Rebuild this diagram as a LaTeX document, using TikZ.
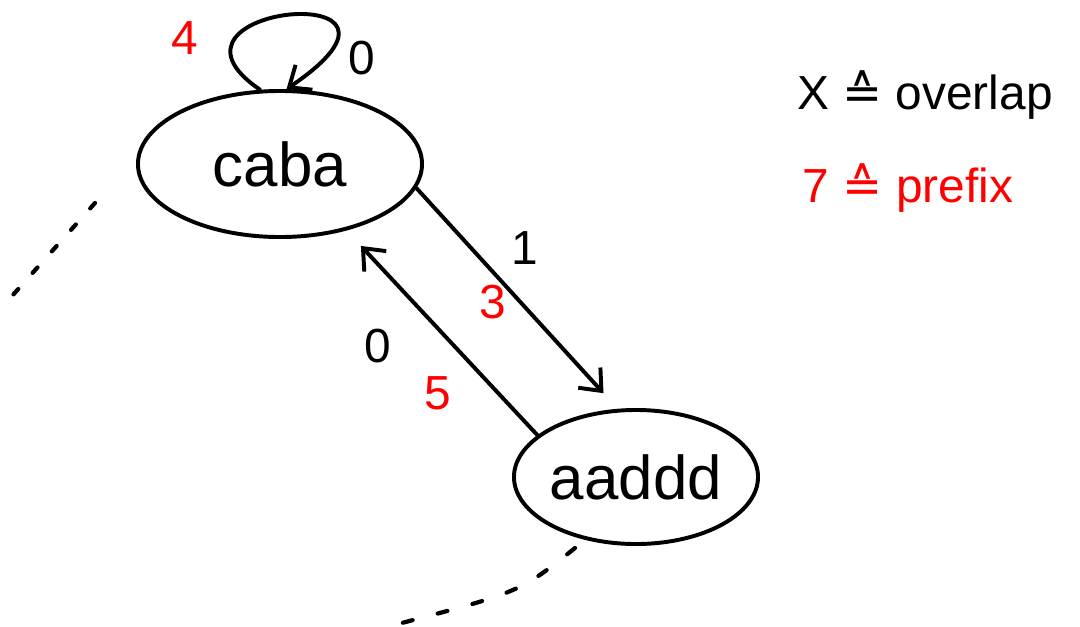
\documentclass[tikz,border=0pt]{standalone}
\usepackage{fontspec}
\setmainfont{Liberation Sans}
\newfontfamily\symfont{DejaVu Sans}
\usetikzlibrary{shapes.geometric,arrows.meta,positioning}

\begin{document}
\begin{tikzpicture}[x=0.025cm,y=-0.025cm,
    state/.style={draw,ellipse,line width=2.8pt,inner sep=0pt,font=\fontsize{44}{48}\selectfont},
    arc/.style={line width=2.8pt,line cap=round,-{Straight Barb[length=4.5mm,width=7.5mm]}},
    ovl/.style={font=\fontsize{34}{40}\selectfont},
    pfx/.style={ovl,text=red},
    dots/.style={line width=3pt,line cap=round}]
    \useasboundingbox (0,0) rectangle (1080,626);

    % States
    \node[state,minimum width=7.1cm,minimum height=3.65cm] (caba) at (280,164) {caba};
    \node[state,minimum width=6.1cm,minimum height=3.35cm] (aaddd) at (636,477) {aaddd};

    % Self loop on caba
    \draw[arc] (caba.105) .. controls (135,5) and (455,-25) .. (caba.85);
    \node[pfx] (pfx0) at (185,38) {4};
    \node[ovl] (ovl0) at (362,58) {0};

    % caba -> aaddd
    \draw[arc,shorten >=15pt] (caba.-10) -- (aaddd.105);
    \node[ovl] (ovl1) at (525,248) {1};
    \node[pfx] (pfx1) at (493,302) {3};

    % aaddd -> caba
    \draw[arc,shorten >=15pt] (aaddd.157) -- (caba.-45);
    \node[ovl] (ovl2) at (378,346) {0};
    \node[pfx] (pfx2) at (438,393) {5};

    % More nodes (not shown)
    \coordinate (moreA) at (95,203);
    \coordinate (moreB) at (12,296);
    \coordinate (moreC) at (575,548);
    \coordinate (moreD) at (398,624);
    \draw[dots,dash pattern=on 1.8mm off 5.4mm] (moreA) -- (moreB);
    \draw[dots,dash pattern=on 2.5mm off 6.5mm] (moreC) .. controls (520,592) .. (moreD);

    % Legend
    \node[ovl] (key1) at (925,95) {X {\symfont ≙} overlap};
    \node[pfx] (key2) at (908,188) {7 {\symfont ≙} prefix};
\end{tikzpicture}
\end{document}
